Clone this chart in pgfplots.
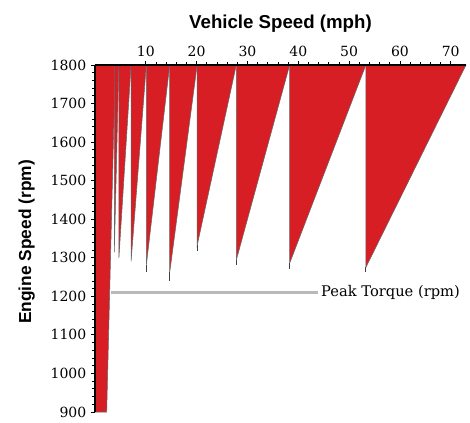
\documentclass[border=0pt]{standalone}
\usepackage{pgfplots}
\pgfplotsset{compat=1.18}
\usepackage{fontspec}
\setmainfont{DejaVu Serif}
\newfontfamily\labfont{Liberation Sans}
\definecolor{gred}{RGB}{214,30,36}
\begin{document}
\begin{tikzpicture}
\begin{axis}[
  at={(0,0)}, anchor=south west,
  scale only axis, width=278.25pt, height=260.25pt,
  xmin=0, xmax=73, ymin=900, ymax=1800,
  axis x line*=top, axis y line*=left,
  axis on top,
  xtick={10,20,...,70}, minor x tick num=4,
  ytick={900,1000,...,1800}, minor y tick num=4,
  tick align=outside,
  major tick length=3pt, minor tick length=2pt,
  tick style={black, line width=0.6pt},
  axis line style={black, line width=1pt},
  /pgf/number format/assume math mode=true,
  /pgf/number format/set thousands separator={},
  ticklabel style={font=\fontsize{10.5}{12}\selectfont},
  xlabel={\labfont\bfseries Vehicle Speed (mph)},
  ylabel={\labfont\bfseries Engine Speed (rpm)},
  xlabel style={font=\fontsize{14}{16}\selectfont, yshift=3pt},
  ylabel style={font=\fontsize{13}{15}\selectfont, at={(ticklabel cs:0.49,5pt)}},
  clip=false,
]
% gear 1
\addplot[fill=gred, draw=black!60, line width=0.4pt] coordinates {(0,900) (2.3,900) (4.0,1800) (0,1800)} -- cycle;
% upper gears: (start,1800) (start,tip) (next,1800)
\addplot[fill=gred, draw=black!60, line width=0.4pt] coordinates {(3.8,1800) (3.8,1314) (4.7,1800)} -- cycle;
\addplot[fill=gred, draw=black!60, line width=0.4pt] coordinates {(4.7,1800) (4.7,1299) (7.1,1800)} -- cycle;
\addplot[fill=gred, draw=black!60, line width=0.4pt] coordinates {(7.1,1800) (7.1,1291) (10.1,1800)} -- cycle;
\addplot[fill=gred, draw=black!60, line width=0.4pt] coordinates {(10.1,1800) (10.1,1281) (14.7,1800)} -- cycle;
\addplot[fill=gred, draw=black!60, line width=0.4pt] coordinates {(14.7,1800) (14.7,1262) (20.1,1800)} -- cycle;
\addplot[fill=gred, draw=black!60, line width=0.4pt] coordinates {(20.1,1800) (20.1,1332) (27.8,1800)} -- cycle;
\addplot[fill=gred, draw=black!60, line width=0.4pt] coordinates {(27.8,1800) (27.8,1294) (38.3,1800)} -- cycle;
\addplot[fill=gred, draw=black!60, line width=0.4pt] coordinates {(38.3,1800) (38.3,1286) (53.3,1800)} -- cycle;
\addplot[fill=gred, draw=black!60, line width=0.4pt] coordinates {(53.3,1800) (53.3,1275) (73,1800)} -- cycle;
% dark tails below the tips
\addplot[black!75, line width=0.6pt] coordinates {(10.1,1281) (10.1,1262)};
\addplot[black!75, line width=0.6pt] coordinates {(14.7,1262) (14.7,1240)};
\addplot[black!75, line width=0.6pt] coordinates {(20.1,1332) (20.1,1318)};
\addplot[black!75, line width=0.6pt] coordinates {(27.8,1294) (27.8,1280)};
\addplot[black!75, line width=0.6pt] coordinates {(38.3,1286) (38.3,1272)};
\addplot[black!75, line width=0.6pt] coordinates {(53.3,1275) (53.3,1262)};
% peak torque
\addplot[gray!55, line width=1.6pt] coordinates {(3.2,1210) (43.8,1210)};
\node[anchor=west, font=\fontsize{11}{13}\selectfont, inner sep=1pt] at (axis cs:44.2,1210) {Peak Torque (rpm)};
\end{axis}
\pgfresetboundingbox
\path (-71.25pt,-7.5pt) rectangle (281.25pt,309pt);
\end{tikzpicture}
\end{document}
